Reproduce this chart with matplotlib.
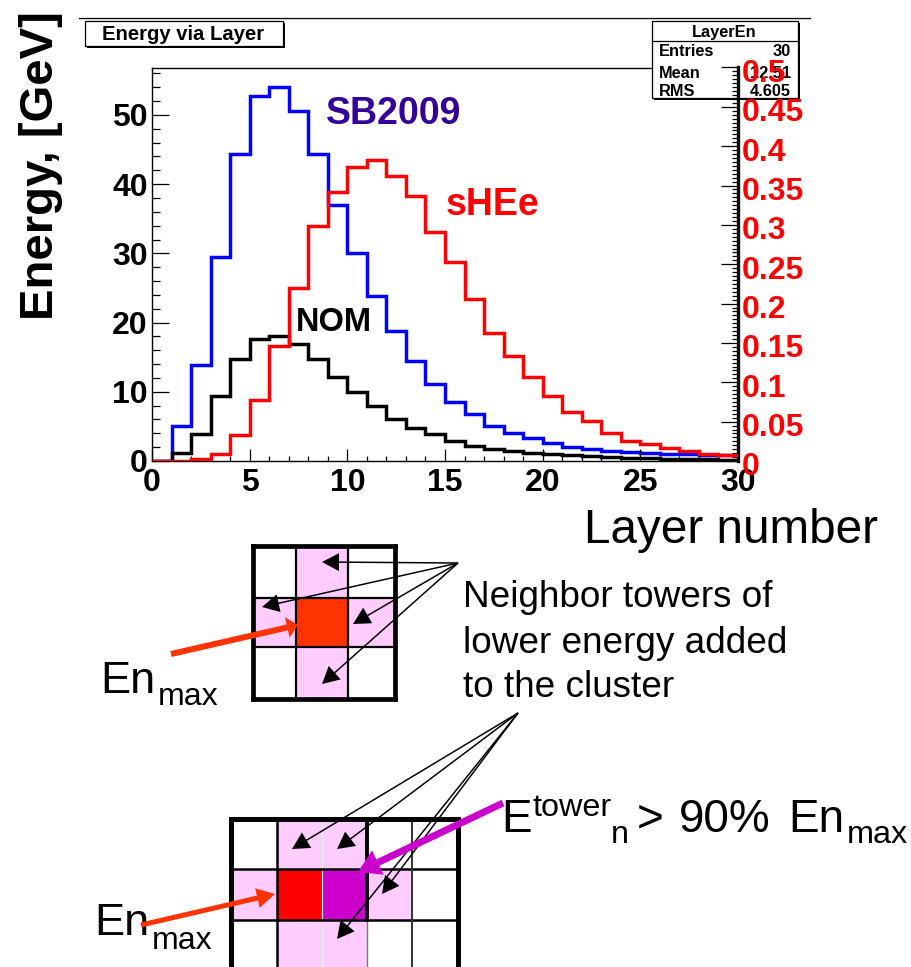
import numpy as np
import matplotlib
matplotlib.use("Agg")
import matplotlib.pyplot as plt
from matplotlib.patches import Rectangle, FancyArrowPatch
from matplotlib.ticker import MultipleLocator
from matplotlib.transforms import ScaledTranslation

plt.rcParams['font.family'] = ['Liberation Sans', 'DejaVu Sans']

# layer histograms (left axis GeV, sHEe on the right axis)
layers = np.arange(0, 31)
sb2009 = [0, 5.06, 13.8, 29.5, 44.4, 52.8, 54.1, 50.5, 44.3, 37.0, 30.0, 23.9, 18.8, 14.4, 11.1,
          8.5, 6.8, 5.1, 4.1, 3.3, 2.6, 2.07, 1.7, 1.45, 1.3, 1.2, 1.05, 1.0, 0.9, 0.8]
nom = [0, 1.1, 3.9, 9.4, 14.7, 17.6, 18.1, 16.9, 14.8, 12.2, 9.9, 7.9, 6.1, 4.8, 3.85,
       2.9, 2.17, 1.73, 1.45, 1.2, 1.06, 0.9, 0.75, 0.6, 0.5, 0.42, 0.35, 0.3, 0.25, 0.2]
shee = [0, 0, 0.003, 0.009, 0.033, 0.077, 0.146, 0.22, 0.298, 0.342, 0.373, 0.383, 0.362, 0.337, 0.291,
        0.253, 0.206, 0.163, 0.133, 0.107, 0.083, 0.062, 0.051, 0.035, 0.026, 0.022, 0.017, 0.013, 0.009, 0.007]

left_ticks = [0, 10, 20, 30, 40, 50]
right_ticks = [0, 0.05, 0.1, 0.15, 0.2, 0.25, 0.3, 0.35, 0.4, 0.45, 0.5]
right_labels = ['0', '0.05', '0.1', '0.15', '0.2', '0.25', '0.3', '0.35', '0.4', '0.45', '0.5']
x_ticks = [0, 5, 10, 15, 20, 25, 30]

W, H = 912, 967
PINK = '#FFCCFF'
ORANGE = '#FF3300'
PURPLE = '#CC00CC'

fig = plt.figure(figsize=(W / 100, H / 100), dpi=100)

# full figure overlay in pixel coords for the annotation parts
bg = fig.add_axes([0, 0, 1, 1], zorder=0)
bg.set_xlim(0, W)
bg.set_ylim(H, 0)
bg.axis('off')
top = fig.add_axes([0, 0, 1, 1], zorder=5)
top.set_xlim(0, W)
top.set_ylim(H, 0)
top.axis('off')
top.patch.set_alpha(0)

# page rule and root boxes
bg.plot([79, 810], [17.5, 17.5], color='k', lw=0.9)
bg.plot([79, 810], [18.7, 18.7], color='#cccccc', lw=0.8)
bg.plot([152, 652], [67.5, 67.5], color='k', lw=1.0)
bg.add_patch(Rectangle((87, 23), 198, 25, fc='k', ec='k', lw=0))
bg.add_patch(Rectangle((85, 21), 198, 25, fc='w', ec='k', lw=0.9))
bg.text(183, 35, 'Energy via Layer', fontsize=14.6, fontweight='bold', ha='center', va='center')

bg.add_patch(Rectangle((654, 23), 146, 77, fc='k', ec='k', lw=0))
bg.add_patch(Rectangle((652, 21), 146, 77, fc='w', ec='k', lw=0.9))
bg.plot([652, 798], [40.5, 40.5], color='k', lw=0.9)
bg.text(724, 32, 'LayerEn', fontsize=11.8, fontweight='bold', ha='center', va='center')
for lab, val, yy in [('Entries', '30', 52), ('Mean', '12.51', 73), ('RMS', '4.605', 92)]:
    bg.text(659, yy, lab, fontsize=11.8, fontweight='bold', ha='left', va='center')
    bg.text(791, yy, val, fontsize=11.8, fontweight='bold', ha='right', va='center')

# main histogram
ax = fig.add_axes([152 / W, 1 - 461 / H, (738 - 152) / W, (461 - 67.5) / H], zorder=2)
ax.patch.set_alpha(0)
ax.set_xlim(0, 30)
ax.set_ylim(0, 56.85)
ax.stairs(sb2009, layers, color='#0000FF', lw=2.5, baseline=None)
ax.stairs(nom, layers, color='k', lw=2.5, baseline=None)
ax.spines['right'].set_visible(False)
ax.spines['top'].set_visible(False)
for s in ['left', 'bottom']:
    ax.spines[s].set_linewidth(1.0)
ax.set_xticks(x_ticks)
ax.set_yticks(left_ticks)
ax.xaxis.set_minor_locator(MultipleLocator(1))
ax.yaxis.set_minor_locator(MultipleLocator(2))
ax.tick_params(axis='x', which='major', direction='in', length=8.6, width=0.9, labelsize=23, pad=5)
ax.tick_params(axis='x', which='minor', direction='in', length=3.6, width=0.9)
ax.tick_params(axis='y', which='major', direction='in', length=12, width=0.9, labelsize=23, pad=3)
ax.tick_params(axis='y', which='minor', direction='in', length=6, width=0.9)
for t in ax.get_xticklabels() + ax.get_yticklabels():
    t.set_fontweight('bold')

# sHEe on its own scale
ax2 = ax.twinx()
ax2.patch.set_alpha(0)
ax2.set_ylim(0, 0.5)
ax2.stairs(shee, layers, color='#FF0000', lw=2.5, baseline=None, zorder=3)
for s in ['left', 'bottom', 'top']:
    ax2.spines[s].set_visible(False)
ax2.spines['right'].set_linewidth(2.4)
ax2.set_yticks(right_ticks)
ax2.set_yticklabels(right_labels)
ax2.yaxis.set_minor_locator(MultipleLocator(0.005))
ax2.tick_params(axis='y', which='major', direction='in', length=12, width=0.9, labelsize=23,
                labelcolor='#FF0000', pad=3)
ax2.tick_params(axis='y', which='minor', direction='in', length=4.5, width=0.9)
label_shift = ScaledTranslation(0, -3 / 100, fig.dpi_scale_trans)
for t in ax2.get_yticklabels():
    t.set_fontweight('bold')
    t.set_transform(t.get_transform() + label_shift)

top.text(326, 124, 'SB2009', color='#330099', fontsize=27, fontweight='bold', ha='left', va='baseline')
top.text(446, 215, 'sHEe', color='#FF0000', fontsize=27, fontweight='bold', ha='left', va='baseline')
top.text(296, 331, 'NOM', color='k', fontsize=23.5, fontweight='bold', ha='left', va='baseline')
top.text(41.5, 166, 'Energy, [GeV]', fontsize=34, fontweight='bold', rotation=90, ha='center', va='center')
top.text(584, 543, 'Layer number', fontsize=34.3, ha='left', va='baseline')


def grid_lines(a, segs, lw, color='k'):
    for x0, y0, x1, y1 in segs:
        a.plot([x0, x1], [y0, y1], color=color, lw=lw, solid_capstyle='projecting')


def filled_arrow(a, start, tip, color, tail, head_w, head_l, z=6):
    # mutation_scale 0.72 makes the style numbers come out in pixels at dpi 100
    style = 'simple,head_length=%g,head_width=%g,tail_width=%g' % (head_l, head_w, tail)
    a.add_patch(FancyArrowPatch(start, tip, arrowstyle=style, mutation_scale=0.72, color=color, lw=0,
                                shrinkA=0, shrinkB=0, zorder=z))


# upper 3x3 tower diagram
bg.add_patch(Rectangle((296, 546), 52, 153, fc=PINK, ec='none'))
bg.add_patch(Rectangle((253, 598), 142, 49, fc=PINK, ec='none'))
bg.add_patch(Rectangle((296, 598), 52, 49, fc=ORANGE, ec='none'))
grid_lines(bg, [(296, 546, 296, 699), (348, 546, 348, 699), (253, 598, 395, 598), (253, 647, 395, 647)], 1.6)
grid_lines(bg, [(253, 546, 395, 546), (253, 699, 395, 699), (253, 546, 253, 699), (395, 546, 395, 699)], 3.4)

neighbor_src = (458, 563)
for tip in [(322, 562), (262, 607), (353, 624), (322, 684)]:
    filled_arrow(top, neighbor_src, tip, 'k', 1.5, 18, 17)
filled_arrow(top, (171, 654), (298, 625), ORANGE, 6, 21, 11, z=7)

# lower tower diagram, cut by the page edge
bg.add_patch(Rectangle((277, 819), 90, 160, fc=PINK, ec='none'))
bg.add_patch(Rectangle((233, 869), 179, 51, fc=PINK, ec='none'))
bg.add_patch(Rectangle((277, 869), 45, 51, fc='#FF0000', ec='none'))
bg.add_patch(Rectangle((322, 869), 45, 51, fc=PURPLE, ec='none'))
grid_lines(bg, [(322, 819, 322, 980)], 0.8, color='#eeeeee')
grid_lines(bg, [(277, 819, 277, 980), (233, 869, 458, 869), (233, 920, 458, 920)], 1.8)
grid_lines(bg, [(412, 819, 412, 980)], 1.4, color='#333333')
grid_lines(bg, [(367, 920, 367, 980)], 1.0, color='#777777')
grid_lines(bg, [(367, 819, 367, 920)], 2.8)
grid_lines(bg, [(231, 819, 458, 819), (231, 819, 231, 980), (458, 819, 458, 980)], 3.6)

cluster_src = (518, 713)
for tip in [(292, 849), (337, 849), (382, 894), (337, 939)]:
    filled_arrow(top, cluster_src, tip, 'k', 1.5, 18, 17)
filled_arrow(top, (141, 925), (275, 894), ORANGE, 5, 20, 18, z=7)
filled_arrow(top, (503, 803), (358, 872), PURPLE, 7, 27, 22, z=7)

# slide text
top.text(463, 607, 'Neighbor towers of', fontsize=26.6, ha='left', va='baseline', zorder=8)
top.text(463, 652.7, 'lower energy added', fontsize=26.6, ha='left', va='baseline', zorder=8)
top.text(463, 696.7, 'to the cluster', fontsize=26.6, ha='left', va='baseline', zorder=8)

top.text(100, 693, 'En', fontsize=32.5, ha='left', va='baseline', zorder=5)
top.text(158, 705, 'max', fontsize=23, ha='left', va='baseline')
top.text(94, 935, 'En', fontsize=32.5, ha='left', va='baseline', zorder=5)
top.text(152, 949, 'max', fontsize=23, ha='left', va='baseline')

top.text(501, 832, 'E', fontsize=33, ha='left', va='baseline')
top.text(533, 816, 'tower', fontsize=23.3, ha='left', va='baseline')
top.text(611, 843, 'n', fontsize=23.3, ha='left', va='baseline')
top.text(637, 832, '>', fontsize=33, ha='left', va='baseline')
top.text(679, 832, '90%', fontsize=33, ha='left', va='baseline')
top.text(788, 832, 'En', fontsize=33, ha='left', va='baseline')
top.text(847, 843, 'max', fontsize=23.3, ha='left', va='baseline')

fig.savefig('out.png', dpi=100)
